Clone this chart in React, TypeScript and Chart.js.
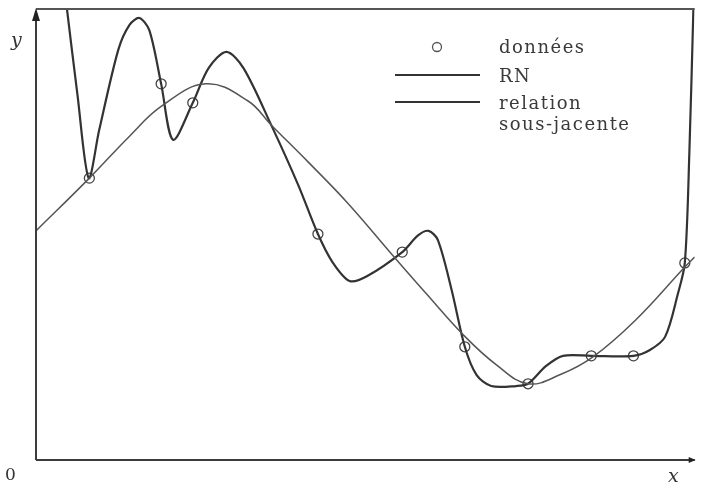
import React, { useEffect, useRef } from "react";
import { Chart, registerables } from "chart.js";

Chart.register(...registerables);

// Observed data points (données)
const DATA_X = [0.81, 1.9, 2.38, 4.28, 5.56, 6.51, 7.47, 8.43, 9.07, 9.85];
const DATA_Y = [6.25, 8.34, 7.92, 5.01, 4.61, 2.51, 1.69, 2.31, 2.31, 4.37];

// Neural network fit (RN)
const RN_X = [0.47, 0.63, 0.8, 0.96, 1.25, 1.42, 1.57, 1.72, 1.9, 2.08, 2.38, 2.62, 2.89, 3.15, 3.57, 3.98, 4.28, 4.5, 4.76, 5.03, 5.56, 5.8, 5.96, 6.1, 6.31, 6.51, 6.69, 6.91, 7.29, 7.47, 7.74, 8.0, 8.43, 9.07, 9.32, 9.55, 9.74, 9.85, 9.92, 9.98];
const RN_Y = [10.0, 8.09, 6.25, 7.32, 9.1, 9.65, 9.8, 9.53, 8.34, 7.1, 7.92, 8.69, 9.05, 8.69, 7.43, 6.1, 5.01, 4.39, 3.97, 4.08, 4.61, 4.98, 5.08, 4.88, 3.77, 2.51, 1.88, 1.64, 1.64, 1.69, 2.08, 2.31, 2.31, 2.31, 2.44, 2.73, 3.66, 4.37, 6.87, 10.0];

// Underlying relation (relation sous-jacente)
const REL_X = [0, 0.81, 1.42, 1.91, 2.58, 3.22, 3.57, 4.13, 4.73, 5.45, 5.93, 6.49, 6.99, 7.47, 7.97, 8.45, 9.1, 9.85, 10.0];
const REL_Y = [5.08, 6.25, 7.18, 7.85, 8.34, 7.96, 7.43, 6.61, 5.7, 4.48, 3.68, 2.77, 2.11, 1.69, 1.9, 2.28, 3.1, 4.28, 4.5];

const LEGEND_LABELS = ["données", "RN", "relation", "sous-jacente"];
const AXIS_LABELS = { y: "y", x: "x", origin: "0" };

const pts = (xs: number[], ys: number[]) => xs.map((x, i) => ({ x, y: ys[i] }));

const decorPlugin = {
  id: "decor",
  afterDraw(chart: any) {
    const { ctx, chartArea } = chart;
    const { left, right, top, bottom } = chartArea;
    ctx.save();
    ctx.strokeStyle = "#3c3c3c";
    ctx.fillStyle = "#222";
    ctx.lineWidth = 2;
    // axes
    ctx.beginPath();
    ctx.moveTo(left, bottom);
    ctx.lineTo(left, top + 6);
    ctx.moveTo(left, bottom);
    ctx.lineTo(right, bottom);
    ctx.stroke();
    // top border
    ctx.strokeStyle = "#555";
    ctx.beginPath();
    ctx.moveTo(left, top);
    ctx.lineTo(right, top);
    ctx.stroke();
    // y arrow
    ctx.beginPath();
    ctx.moveTo(left, top - 1);
    ctx.lineTo(left - 4, top + 12);
    ctx.lineTo(left + 4, top + 12);
    ctx.closePath();
    ctx.fill();
    // x arrow end
    ctx.beginPath();
    ctx.moveTo(right + 1, bottom);
    ctx.lineTo(right - 6, bottom - 3);
    ctx.lineTo(right - 6, bottom + 3);
    ctx.closePath();
    ctx.fill();

    // axis labels
    ctx.fillStyle = "#333";
    ctx.textBaseline = "middle";
    ctx.font = "italic 19px 'DejaVu Serif'";
    ctx.textAlign = "left";
    ctx.fillText(AXIS_LABELS.y, 11, 41);
    ctx.fillText(AXIS_LABELS.x, 668, 477);
    ctx.font = "17px 'DejaVu Serif'";
    ctx.fillText(AXIS_LABELS.origin, 5, 476);

    // legend
    ctx.strokeStyle = "#555";
    ctx.lineWidth = 1.3;
    ctx.beginPath();
    ctx.arc(437, 47, 4.5, 0, Math.PI * 2);
    ctx.stroke();
    ctx.strokeStyle = "#333";
    ctx.lineWidth = 2;
    ctx.beginPath();
    ctx.moveTo(395, 75);
    ctx.lineTo(480, 75);
    ctx.moveTo(395, 102);
    ctx.lineTo(480, 102);
    ctx.stroke();

    ctx.fillStyle = "#3a3a3a";
    ctx.font = "18px 'DejaVu Serif'";
    try {
      (ctx as any).letterSpacing = "1.5px";
    } catch (e) {}
    ctx.fillText(LEGEND_LABELS[0], 499, 48);
    ctx.fillText(LEGEND_LABELS[1], 499, 77);
    ctx.fillText(LEGEND_LABELS[2], 499, 104);
    ctx.fillText(LEGEND_LABELS[3], 499, 125);
    ctx.restore();
  },
};

export default function App() {
  const ref = useRef<HTMLCanvasElement | null>(null);
  useEffect(() => {
    if (!ref.current) return;
    const chart = new Chart(ref.current, {
      type: "line",
      data: {
        datasets: [
          {
            label: "relation sous-jacente",
            data: pts(REL_X, REL_Y),
            borderColor: "#555",
            borderWidth: 1.5,
            pointRadius: 0,
            tension: 0.4,
            fill: false,
          },
          {
            label: "RN",
            data: pts(RN_X, RN_Y),
            borderColor: "#333",
            borderWidth: 2.2,
            pointRadius: 0,
            tension: 0.3,
            fill: false,
          },
          {
            label: "données",
            data: pts(DATA_X, DATA_Y),
            showLine: false,
            pointRadius: 5,
            pointStyle: "circle",
            pointBorderColor: "#444",
            pointBackgroundColor: "rgba(0,0,0,0)",
            pointBorderWidth: 1.3,
          },
        ],
      },
      options: {
        responsive: false,
        animation: false,
        layout: { padding: { left: 36, top: 9, right: 1, bottom: 30 } },
        plugins: { legend: { display: false }, tooltip: { enabled: false } },
        scales: {
          x: { type: "linear", min: 0, max: 10, display: false },
          y: { type: "linear", min: 0, max: 10, display: false },
        },
      },
      plugins: [decorPlugin],
    } as any);
    return () => chart.destroy();
  }, []);
  return (
    <div style={{ position: "fixed", left: 0, top: 0, width: 701, height: 490, background: "#fff" }}>
      <canvas ref={ref} width={701} height={490} />
    </div>
  );
}
